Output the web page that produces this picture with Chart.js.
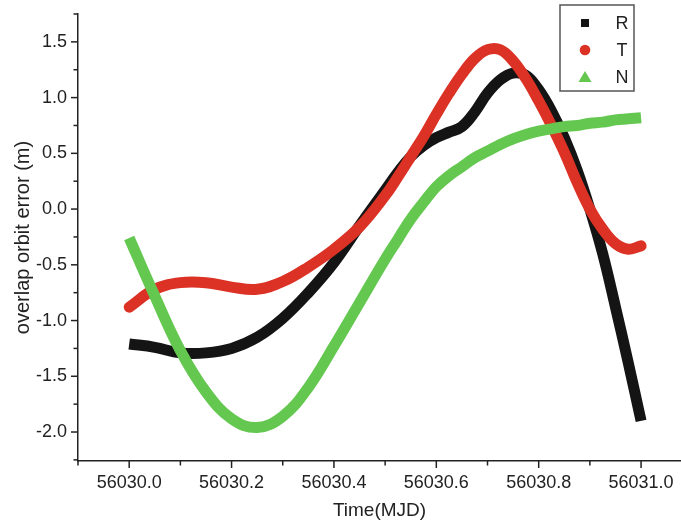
<!DOCTYPE html>
<html>
<head>
<meta charset="utf-8">
<script src="https://cdn.jsdelivr.net/npm/chart.js@4.4.0/dist/chart.umd.min.js"></script>
<style>
  body { margin: 0; background: #fff; }
</style>
</head>
<body>
<canvas id="myChart" width="681" height="524"></canvas>
<script>
// time axis (MJD) and the three orbit error components (m)
const times = [56030.00, 56030.05, 56030.10, 56030.15, 56030.20, 56030.25, 56030.30, 56030.35, 56030.40, 56030.45,
  56030.50, 56030.525, 56030.55, 56030.575, 56030.60, 56030.625, 56030.65, 56030.675, 56030.70, 56030.725,
  56030.75, 56030.775, 56030.80, 56030.825, 56030.85, 56030.875, 56030.90, 56030.925, 56030.95, 56030.975, 56031.00];

const seriesR = [-1.21, -1.24, -1.29, -1.29, -1.25, -1.15, -0.98, -0.75, -0.48, -0.15,
  0.17, 0.33, 0.47, 0.57, 0.64, 0.69, 0.74, 0.87, 1.04, 1.16,
  1.22, 1.20, 1.07, 0.88, 0.64, 0.35, 0.00, -0.40, -0.88, -1.38, -1.90];

const seriesT = [-0.88, -0.72, -0.66, -0.66, -0.70, -0.72, -0.65, -0.52, -0.36, -0.16,
  0.12, 0.29, 0.47, 0.65, 0.85, 1.04, 1.21, 1.35, 1.43, 1.43,
  1.33, 1.17, 0.97, 0.75, 0.51, 0.24, 0.00, -0.18, -0.31, -0.36, -0.33];

const seriesN = [-0.26, -0.78, -1.27, -1.64, -1.88, -1.96, -1.86, -1.60, -1.23, -0.84,
  -0.45, -0.27, -0.09, 0.06, 0.20, 0.30, 0.38, 0.46, 0.52, 0.58,
  0.63, 0.67, 0.70, 0.72, 0.74, 0.75, 0.77, 0.78, 0.80, 0.81, 0.82];

const seriesLabels = ['R', 'T', 'N'];
const seriesColors = ['#141414', '#dc3226', '#64c850'];
const legendShapes = ['square', 'circle', 'triangle'];

const xTickLabels = ['56030.0', '56030.2', '56030.4', '56030.6', '56030.8', '56031.0'];
const yTickLabels = ['-2.0', '-1.5', '-1.0', '-0.5', '0.0', '0.5', '1.0', '1.5'];

const font = '"Liberation Sans", Arial, Helvetica, sans-serif';
const textColor = '#222';

const toPoints = (vals) => vals.map((v, i) => ({ x: times[i], y: v }));

// outward major/minor tick marks like the Origin plot
const tickMarks = {
  id: 'tickMarks',
  afterDraw(chart) {
    const { ctx, chartArea } = chart;
    const { x, y } = chart.scales;
    ctx.save();
    ctx.strokeStyle = textColor;
    ctx.lineWidth = 1.5;
    const each = (scale, minor, major, fn) => {
      const n0 = Math.ceil(scale.min / minor - 1e-6);
      const n1 = Math.floor(scale.max / minor + 1e-6);
      for (let n = n0; n <= n1; n++) {
        const v = n * minor;
        const isMajor = Math.abs(v / major - Math.round(v / major)) < 1e-6;
        fn(scale.getPixelForValue(v), isMajor ? 7 : 4.5);
      }
    };
    each(x, 0.1, 0.2, (px, len) => {
      ctx.beginPath();
      ctx.moveTo(px, chartArea.bottom);
      ctx.lineTo(px, chartArea.bottom + len);
      ctx.stroke();
    });
    each(y, 0.25, 0.5, (py, len) => {
      ctx.beginPath();
      ctx.moveTo(chartArea.left, py);
      ctx.lineTo(chartArea.left - len, py);
      ctx.stroke();
    });
    ctx.restore();
  }
};

// boxed legend in the top right corner
const legendBox = {
  id: 'legendBox',
  afterDraw(chart) {
    const { ctx } = chart;
    ctx.save();
    ctx.fillStyle = '#fff';
    ctx.fillRect(560, 5, 74, 86);
    ctx.strokeStyle = '#555';
    ctx.lineWidth = 1.5;
    ctx.strokeRect(560, 5, 74, 86);
    chart.data.datasets.forEach((ds, i) => {
      const cy = 23 + i * 27;
      const cx = 585;
      ctx.fillStyle = ds.borderColor;
      ctx.beginPath();
      if (legendShapes[i] === 'square') {
        ctx.rect(cx - 4, cy - 4, 8, 8);
      } else if (legendShapes[i] === 'circle') {
        ctx.arc(cx, cy, 5.3, 0, Math.PI * 2);
      } else {
        ctx.moveTo(cx, cy - 6);
        ctx.lineTo(cx + 6.5, cy + 5);
        ctx.lineTo(cx - 6.5, cy + 5);
        ctx.closePath();
      }
      ctx.fill();
      ctx.fillStyle = textColor;
      ctx.font = '18px ' + font;
      ctx.textAlign = 'center';
      ctx.textBaseline = 'middle';
      ctx.fillText(ds.label, 622, cy + 1);
    });
    ctx.restore();
  }
};

const makeDataset = (vals, i) => ({
  label: seriesLabels[i],
  data: toPoints(vals),
  borderColor: seriesColors[i],
  backgroundColor: seriesColors[i],
  borderWidth: 11,
  borderCapStyle: i === 1 ? 'round' : 'butt',
  pointRadius: 0,
  tension: 0.4,
  order: 3 - i
});

const ctx = document.getElementById('myChart').getContext('2d');
const myChart = new Chart(ctx, {
  type: 'line',
  data: {
    datasets: [seriesR, seriesT, seriesN].map(makeDataset)
  },
  options: {
    responsive: false,
    animation: false,
    layout: { padding: { top: 14, right: 0, left: 0, bottom: 0 } },
    plugins: {
      legend: { display: false },
      tooltip: { enabled: false }
    },
    scales: {
      x: {
        type: 'linear',
        min: 56029.9,
        max: 56031.078,
        grid: { display: false, drawTicks: false },
        border: { display: true, color: textColor, width: 1.5 },
        ticks: {
          stepSize: 0.2,
          includeBounds: false,
          padding: 11,
          color: textColor,
          font: { family: font, size: 18 },
          maxRotation: 0,
          callback: (v) => {
            const s = v.toFixed(1);
            return xTickLabels.includes(s) ? s : '';
          }
        },
        title: {
          display: true,
          text: 'Time(MJD)',
          color: textColor,
          font: { family: font, size: 19 },
          padding: { top: 0, bottom: 2 }
        },
        afterFit: (s) => { s.height = 63; s.paddingLeft = 0; s.paddingRight = 0; }
      },
      y: {
        min: -2.26,
        max: 1.75,
        grid: { display: false, drawTicks: false },
        border: { display: true, color: textColor, width: 1.5 },
        ticks: {
          stepSize: 0.5,
          includeBounds: false,
          padding: 11,
          color: textColor,
          font: { family: font, size: 18 },
          callback: (v) => {
            const s = v.toFixed(1);
            return yTickLabels.includes(s) ? s : '';
          }
        },
        title: {
          display: true,
          text: 'overlap orbit error (m)',
          color: textColor,
          font: { family: font, size: 20 },
          padding: { top: 11, bottom: 0 }
        },
        afterFit: (s) => { s.width = 78; s.paddingTop = 0; s.paddingBottom = 0; }
      }
    }
  },
  plugins: [tickMarks, legendBox]
});
</script>
</body>
</html>
